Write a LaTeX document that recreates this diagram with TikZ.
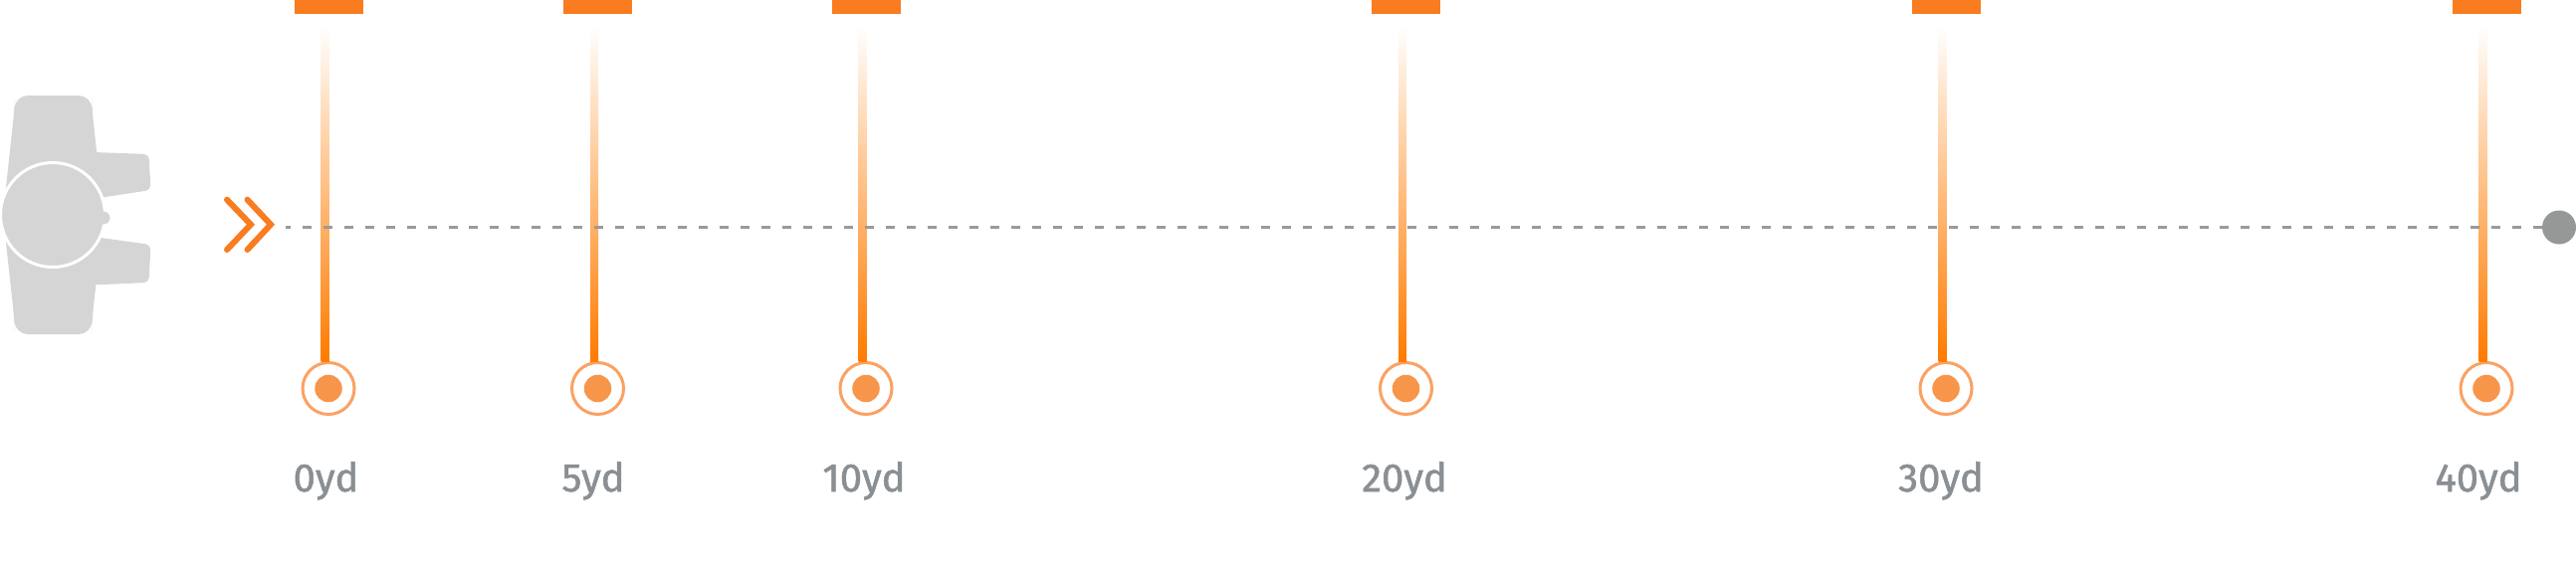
\documentclass[tikz,border=0pt]{standalone}
\usepackage{fontspec}
\setmainfont[FakeBold=1.3]{Fira Sans}
\definecolor{barorange}{HTML}{F97C20}
\definecolor{lineorange}{HTML}{FF7B00}
\definecolor{ringorange}{HTML}{FBA162}
\definecolor{dotorange}{HTML}{F7954B}
\definecolor{labelgray}{HTML}{8A8F93}
\definecolor{dashgray}{HTML}{9A9A9A}
\definecolor{endgray}{HTML}{969897}
\definecolor{bodygray}{HTML}{D5D5D5}
\tikzset{
  topbar/.style={fill=barorange,draw=none,minimum width=69pt,minimum height=14pt,inner sep=0pt},
  ringmark/.style={circle,draw=ringorange,line width=3pt,fill=white,minimum size=52pt,inner sep=0pt},
  dotmark/.style={circle,fill=dotorange,minimum size=27.5pt,inner sep=0pt},
  distlabel/.style={text=labelgray,font=\fontsize{40}{40}\selectfont,anchor=base,inner sep=0pt},
  body/.style={fill=bodygray,draw=none},
  chevron/.style={draw=barorange,line width=6pt,line cap=round,miter limit=10},
  guide/.style={draw=dashgray,line width=3pt,dash pattern=on 9pt off 11.94pt,dash phase=4pt},
}
\begin{document}
\begin{tikzpicture}[x=1pt,y=-1pt]
\useasboundingbox (0,0) rectangle (2588,574);
% device
\path[body,rounded corners=5pt] (80,152.5)--(149.5,155)--(151.5,191)--(80,202)--cycle;
\path[body,rounded corners=5pt] (80,236)--(151.5,246)--(149.5,284)--(80,287)--cycle;
\path[body,rounded corners=13pt] (15,96)--(92,96)--(92.5,110)--(104,216)--(92.5,322)--(92,336)--(15,336)--(14.5,322)--(3,216)--(14.5,110)--cycle;
\node[circle,fill=bodygray,draw=white,line width=3pt,minimum size=105pt,inner sep=0pt] (hub) at (53,216) {};
\node[circle,fill=bodygray,minimum size=13pt,inner sep=0pt] (knob) at (104,219) {};
% chevrons
\draw[chevron] (228,200.7)--(252,225.7)--(228,251);
\draw[chevron] (248.5,200.7)--(272,225.7)--(248.5,251);
% stations
\foreach \n/\x/\t/\lx in {a/330/0yd/327.5,b/600.5/5yd/596,c/870/10yd/868,d/1412.5/20yd/1411,e/1955/30yd/1950,f/2498/40yd/2490}{
  \node[topbar] (bar\n) at (\x,7) {};
  \coordinate (ls\n) at ([xshift=-3.5pt,yshift=-12pt]bar\n.south);
  \node[ringmark] (ring\n) at (\x,390.5) {};
  \node[dotmark] (dot\n) at (ring\n) {};
  \node[distlabel] (lab\n) at (\lx,494) {\t};
  \shade[top color=white,bottom color=lineorange,middle color=lineorange!50] ([xshift=-4pt]ls\n) rectangle ([xshift=4pt]ls\n |- ring\n.north);
}
% guide line
\node[circle,fill=endgray,minimum size=34pt,inner sep=0pt] (endpt) at (2571,228.5) {};
\coordinate (gs) at (287,228.5);
\draw[guide] (gs) -- (endpt.west);
\end{tikzpicture}
\end{document}
